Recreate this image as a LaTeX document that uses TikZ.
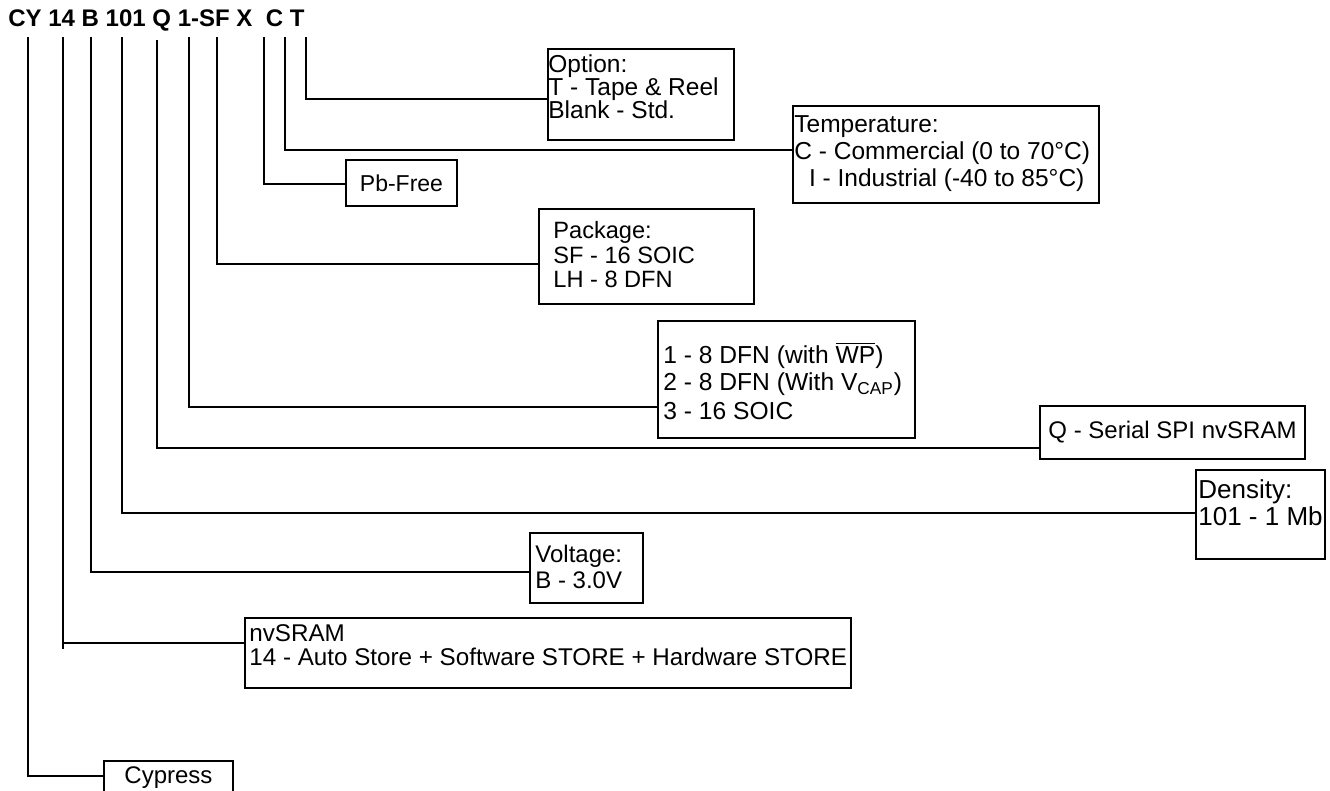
\documentclass[tikz,border=0pt]{standalone}
\usepackage{fontspec}
\setmainfont{Liberation Sans}
\usetikzlibrary{calc}
\newcommand\setfs[2]{\fontsize{#1}{#2}\selectfont\lineskiplimit=-20pt\relax}
\newcommand\topstrut{\rule{0pt}{0.7\baselineskip}}
\begin{document}
\begin{tikzpicture}[x=0.5pt,y=-0.5pt,
  box/.style={draw, line width=1pt, inner sep=0pt, anchor=north west, font=\setfs{12}{13}},
  lbl/.style={inner sep=0pt, anchor=north west, align=left},
  conn/.style={draw, line width=1pt}]
\useasboundingbox (0,0) rectangle (1330,791);

% header
\node[anchor=base west, inner sep=0pt, font=\bfseries\setfs{12}{13}] (hdr) at (8,26.5) {CY 14 B 101 Q 1-SF X~~C T};

% boxes
\node[box, minimum width=93pt, minimum height=45.5pt] (opt) at (547,48) {};
\node[box, minimum width=153pt, minimum height=48.5pt] (temp) at (792,105) {};
\node[box, minimum width=55.5pt, minimum height=23pt, font=\setfs{11.5}{13}] (pb) at (345,159) {Pb-Free};
\node[box, minimum width=107.5pt, minimum height=47.5pt] (pkg) at (538,208) {};
\node[box, minimum width=128.5pt, minimum height=58.5pt] (pin) at (657,320) {};
\node[box, minimum width=132.5pt, minimum height=26.5pt] (q) at (1039,405) {Q - Serial SPI nvSRAM};
\node[box, minimum width=64.5pt, minimum height=44.5pt] (den) at (1195,469) {};
\node[box, minimum width=56.5pt, minimum height=35pt] (vol) at (529,532) {};
\node[box, minimum width=303pt, minimum height=35pt] (nv) at (244,617) {};
\node[box, minimum width=64.5pt, minimum height=17pt] (cyp) at (103,760) {Cypress};

% texts
\node[lbl, font=\setfs{12.25}{11.5}] (optT) at (548,54.7) {\topstrut Option:\\T - Tape \& Reel\\Blank - Std.};
\node[lbl, font=\setfs{12.25}{13.5}] (tempT) at (794,113) {\topstrut Temperature:\\C - Commercial (0 to 70°C)\\\hspace*{0.6em}I - Industrial (-40 to 85°C)};
\node[lbl, font=\setfs{11.8}{12.25}] (pkgT) at (553,221.4) {\topstrut Package:\\SF - 16 SOIC\\LH - 8 DFN};
\node[lbl, font=\setfs{12.3}{13.5}] (pinT) at (663,342) {\topstrut 1 - 8 DFN (with $\overline{\mbox{WP}}$)\\2 - 8 DFN (With V\textsubscript{CAP})\\[1pt]3 - 16 SOIC};
\node[lbl, font=\setfs{13}{13.5}] (denT) at (1198,479) {\topstrut Density:\\101 - 1 Mb};
\node[lbl, font=\setfs{12}{13}] (volT) at (535,544) {\topstrut Voltage:\\B - 3.0V};
\node[lbl, font=\setfs{12.1}{12}] (nvT) at (249,624.5) {\topstrut nvSRAM\\14 - Auto Store + Software STORE + Hardware STORE};

% connector tops
\coordinate (tCY) at (28,37);
\coordinate (t14) at (63,37);
\coordinate (tB) at (91,37);
\coordinate (t101) at (122,37);
\coordinate (tQ) at (157,40);
\coordinate (t1) at (189,37);
\coordinate (tSF) at (217,37);
\coordinate (tX) at (264,37);
\coordinate (tC) at (285,37);
\coordinate (tT) at (306,37);

% connectors
\draw[conn] (tT) |- ([yshift=-2.25pt]opt.west);
\draw[conn] (tC) |- ([yshift=2.25pt]temp.west);
\draw[conn] (tX) |- ([yshift=-0.5pt]pb.west);
\draw[conn] (tSF) |- ([yshift=-3.75pt]pkg.west);
\draw[conn] (t1) |- ([yshift=-13.75pt]pin.west);
\draw[conn] (tQ) |- ([yshift=-7.75pt]q.west);
\draw[conn] (t101) |- ([yshift=0.75pt]den.west);
\draw[conn] (tB) |- ([yshift=-2pt]vol.west);
\draw[conn] (t14) |- ([yshift=5pt]nv.west);
\draw[conn] ($(t14 |- nv.west)+(0,-10)$) -- ++(0,6);
\draw[conn] (tCY) |- ([yshift=1pt]cyp.west);
\end{tikzpicture}
\end{document}
